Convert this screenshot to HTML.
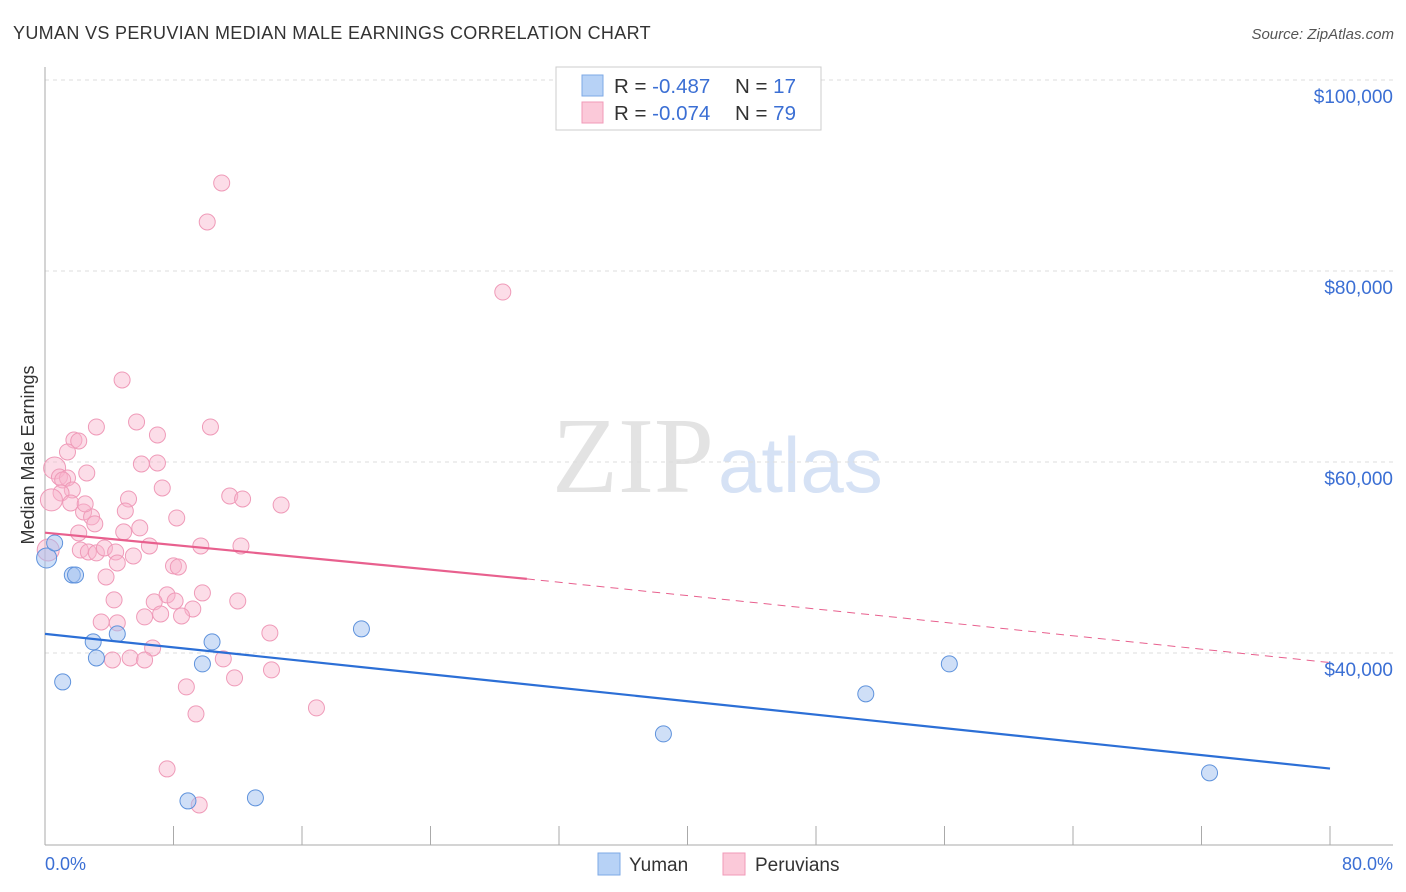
<!DOCTYPE html>
<html><head><meta charset="utf-8"><style>
body{margin:0;background:#fff;font-family:"Liberation Sans",sans-serif;}
svg{display:block}
</style></head><body>
<svg id="c" width="1406" height="892">
<text x="13" y="39" font-size="18" fill="#333" letter-spacing="0.33">YUMAN VS PERUVIAN MEDIAN MALE EARNINGS CORRELATION CHART</text>
<text x="1394" y="39" font-size="15" fill="#555" text-anchor="end" font-style="italic">Source: ZipAtlas.com</text>
<text x="714" y="492" font-size="108" fill="#e3e3e3" text-anchor="end" font-family="Liberation Serif">ZIP</text>
<text x="718" y="492" font-size="78" fill="#d6e2f5">atlas</text>
<text transform="translate(34,455) rotate(-90)" font-size="18" fill="#333" text-anchor="middle">Median Male Earnings</text>
<g id="grid"></g><g id="marks"></g>
<g>
<rect x="556" y="67" width="265" height="63" fill="#fff" stroke="#ccc"/>
<rect x="582" y="75" width="21" height="21" fill="#b7d2f6" stroke="#7ea9e6"/>
<rect x="582" y="102" width="21" height="21" fill="#fbc9d9" stroke="#f09ab8"/>
<text x="614" y="93" font-size="20.5" fill="#333">R = <tspan fill="#3b6fd4">-0.487</tspan></text>
<text x="735" y="93" font-size="20.5" fill="#333">N = <tspan fill="#3b6fd4"> 17</tspan></text>
<text x="614" y="120" font-size="20.5" fill="#333">R = <tspan fill="#3b6fd4">-0.074</tspan></text>
<text x="735" y="120" font-size="20.5" fill="#333">N = <tspan fill="#3b6fd4">79</tspan></text>
</g>
<g>
<rect x="598" y="853" width="22" height="22" fill="#b7d2f6" stroke="#7ea9e6"/>
<text x="629" y="871" font-size="19" fill="#333">Yuman</text>
<rect x="723" y="853" width="22" height="22" fill="#fbc9d9" stroke="#f09ab8"/>
<text x="755" y="871" font-size="19" fill="#333">Peruvians</text>
</g>
<text x="45" y="870" font-size="18" fill="#3b6fd4">0.0%</text>
<text x="1393" y="870" font-size="18" fill="#3b6fd4" text-anchor="end">80.0%</text>
</svg>
<script>
const yTicks=[40000,60000,80000,100000];
const yTickLabels=["$40,000","$60,000","$80,000","$100,000"];
const xTicks=[0,8,16,24,32,40,48,56,64,72,80];
const yumanX=[0.1,0.6,1.7,1.9,1.1,3.0,3.2,4.5,8.9,9.8,10.4,13.1,19.7,38.5,51.1,56.3,72.5];
const yumanY=[49950,51520,48170,48170,36970,41160,39480,42000,24510,38860,41160,24830,42520,31530,35720,38860,27450];
const yumanBig=[1,0,0,0,0,0,0,0,0,0,0,0,0,0,0,0,0];
const peruX=[11.0,10.1,28.5,4.8,5.7,3.2,10.3,7.0,1.8,2.1,1.4,6.0,7.0,0.6,2.6,0.9,1.4,1.1,1.7,7.3,1.0,11.5,12.3,5.2,0.4,1.6,14.7,5.0,2.4,2.9,3.1,8.2,5.9,4.9,2.1,6.5,9.7,12.2,2.2,2.7,3.2,3.7,4.4,5.5,4.5,8.0,8.3,3.8,9.8,7.6,4.3,6.8,8.1,9.2,12.0,7.2,6.2,8.5,3.5,4.5,14.0,6.7,4.2,5.3,6.2,11.1,11.8,14.1,8.8,16.9,9.4,7.6,9.6,2.5,0.2];
const peruY=[89220,85130,77800,68590,64190,63670,63670,62830,62300,62200,61050,59790,59900,59370,58850,58430,58330,58120,57070,57280,56760,56440,56130,56130,56030,55710,55500,54870,54770,54250,53520,54140,53100,52680,52570,51210,51210,51210,50790,50580,50480,51000,50580,50160,49430,49120,49010,47960,46290,46080,45560,45350,45450,44610,45450,44090,43780,43880,43250,43150,42100,40530,39270,39480,39270,39380,37390,38230,36450,34250,33620,27860,24090,55610,50790];
const peruBig=[0,0,0,0,0,0,0,0,0,0,0,0,0,1,0,0,0,0,0,0,0,0,0,0,1,0,0,0,0,0,0,0,0,0,0,0,0,0,0,0,0,0,0,0,0,0,0,0,0,0,0,0,0,0,0,0,0,0,0,0,0,0,0,0,0,0,0,0,0,0,0,0,0,0,1];
const yumanTrend=[0,42000,80,27900];
const peruTrend=[0,52600,30.0,47760,80,39000];
const X=v=>45+v/80*1285, Y=v=>80+(100000-v)/20000*191;
const NS="http://www.w3.org/2000/svg";
const grid=document.getElementById('grid'), marks=document.getElementById('marks');
function mk(p,tag,a){const e=document.createElementNS(NS,tag);for(const k in a)e.setAttribute(k,a[k]);p.appendChild(e);return e;}
yTicks.forEach((t,i)=>{
 const l=mk(grid,'line',{x1:45,x2:1393,y1:Y(t),y2:Y(t),stroke:'#ddd','stroke-dasharray':'4,4'});
 
 
 const tx=mk(grid,'text',{x:1393,y:Y(t)+23,'font-size':19,fill:'#3b6fd4','text-anchor':'end'});
 tx.textContent=yTickLabels[i];
 
 
});
const g0=mk(grid,'line',{x1:45,x2:1393,y1:80,y2:80,stroke:'#ddd','stroke-dasharray':'4,4'});


const ya=mk(grid,'line',{x1:45,x2:45,y1:67,y2:845,stroke:'#aaa'});


const xa=mk(grid,'line',{x1:45,x2:1393,y1:845,y2:845,stroke:'#aaa'});


xTicks.forEach(t=>{const l=mk(grid,'line',{x1:X(t),x2:X(t),y1:826,y2:845,stroke:'#aaa'});
 
 });
peruX.forEach((v,i)=>{const c=mk(marks,'circle',{cx:X(v),cy:Y(peruY[i]),r:peruBig[i]?11:8,fill:'rgba(248,180,204,0.45)',stroke:'#ef9ab8','stroke-width':1});
 
 });
yumanX.forEach((v,i)=>{const c=mk(marks,'circle',{cx:X(v),cy:Y(yumanY[i]),r:yumanBig[i]?10:8,fill:'rgba(160,192,240,0.5)',stroke:'#5e92dc','stroke-width':1});
 
 });
const yt=mk(marks,'line',{x1:X(yumanTrend[0]),y1:Y(yumanTrend[1]),x2:X(yumanTrend[2]),y2:Y(yumanTrend[3]),stroke:'#2c6fd6','stroke-width':2.2});


const pt=mk(marks,'line',{x1:X(peruTrend[0]),y1:Y(peruTrend[1]),x2:X(peruTrend[2]),y2:Y(peruTrend[3]),stroke:'#e8608e','stroke-width':2.2});


const pd=mk(marks,'line',{x1:X(peruTrend[2]),y1:Y(peruTrend[3]),x2:X(peruTrend[4]),y2:Y(peruTrend[5]),stroke:'#e8608e','stroke-width':1,'stroke-dasharray':'8,6'});


</script>
</body></html>
